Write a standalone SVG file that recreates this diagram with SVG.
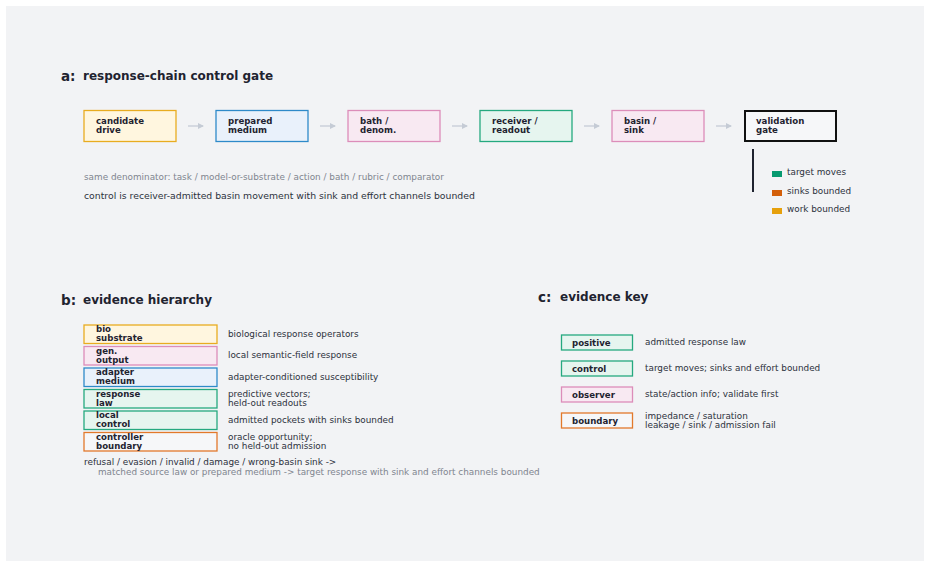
<svg xmlns="http://www.w3.org/2000/svg" width="930" height="567" viewBox="0 0 930 567">
<defs>
<marker id="ah" viewBox="0 0 6 6" refX="5" refY="3" markerWidth="6" markerHeight="6" orient="auto" markerUnits="userSpaceOnUse"><path d="M0,0 L6,3 L0,6 z" fill="#c5cbd5"/></marker>
<style>
text{font-family:"DejaVu Sans","Noto Sans",sans-serif;fill:#1f2330}
.ttl{font-size:12px;font-weight:bold}
.nb{font-size:8.6px;font-weight:bold}
.d{font-size:8.85px;fill:#2c313c}
.g{font-size:8.85px;fill:#80858f}
.yel{fill:#fff6df;stroke:#e8ac20;stroke-width:1.3}
.blu{fill:#e9f1fb;stroke:#2e8ac9;stroke-width:1.3}
.pnk{fill:#f8e9f2;stroke:#dc8db9;stroke-width:1.3}
.grn{fill:#e6f5ef;stroke:#25a97f;stroke-width:1.3}
.org{fill:#f6f7f9;stroke:#e2792b;stroke-width:1.3}
.blk{fill:#f6f7f9;stroke:#111;stroke-width:2}
.arr{stroke:#c5cbd5;stroke-width:1.3;fill:none}
</style>
</defs>
<rect x="0" y="0" width="930" height="567" fill="#ffffff"/>
<rect x="6" y="6" width="918" height="555" fill="#f2f3f5"/>

<text x="61" y="81" style="font-size:13.5px;font-weight:bold">a:</text>
<text x="83" y="80" class="ttl">response-chain control gate</text>

<g id="connectors">
<line x1="188" y1="126" x2="203" y2="126" class="arr" marker-end="url(#ah)"/>
<line x1="320" y1="126" x2="335" y2="126" class="arr" marker-end="url(#ah)"/>
<line x1="452" y1="126" x2="467" y2="126" class="arr" marker-end="url(#ah)"/>
<line x1="584" y1="126" x2="599" y2="126" class="arr" marker-end="url(#ah)"/>
<line x1="716" y1="126" x2="731" y2="126" class="arr" marker-end="url(#ah)"/>
</g>

<g id="candidate"><rect x="84" y="110.5" width="92" height="31" class="yel"/><text x="96" y="124" class="nb">candidate</text><text x="96" y="133" class="nb">drive</text></g>
<g id="prepared"><rect x="216" y="110.5" width="92" height="31" class="blu"/><text x="228" y="124" class="nb">prepared</text><text x="228" y="133" class="nb">medium</text></g>
<g id="bath"><rect x="348" y="110.5" width="92" height="31" class="pnk"/><text x="360" y="124" class="nb">bath /</text><text x="360" y="133" class="nb">denom.</text></g>
<g id="receiver"><rect x="480" y="110.5" width="92" height="31" class="grn"/><text x="492" y="124" class="nb">receiver /</text><text x="492" y="133" class="nb">readout</text></g>
<g id="basin"><rect x="612" y="110.5" width="92" height="31" class="pnk"/><text x="624" y="124" class="nb">basin /</text><text x="624" y="133" class="nb">sink</text></g>
<g id="gate"><rect x="745" y="111" width="91" height="30" class="blk"/><text x="756" y="124" class="nb">validation</text><text x="756" y="133" class="nb">gate</text></g>

<g id="gate-legend">
<line x1="753" y1="149" x2="753" y2="192" stroke="#1f2330" stroke-width="2"/>
<rect x="772" y="171" width="10" height="6" fill="#079a70"/><text x="787" y="175" class="d">target moves</text>
<rect x="772" y="190" width="10" height="6" fill="#d35f0a"/><text x="787" y="194" class="d">sinks bounded</text>
<rect x="772" y="208" width="10" height="6" fill="#e6a00c"/><text x="787" y="212" class="d">work bounded</text>
</g>

<text x="84" y="180" class="g">same denominator: task / model-or-substrate / action / bath / rubric / comparator</text>
<text x="84" y="199" class="d" style="font-size:9.3px">control is receiver-admitted basin movement with sink and effort channels bounded</text>

<text x="61" y="305" style="font-size:13.5px;font-weight:bold">b:</text>
<text x="83" y="304" class="ttl">evidence hierarchy</text>

<g id="bio"><rect x="84" y="325" width="133" height="18.5" class="yel"/><text x="96" y="332" class="nb">bio</text><text x="96" y="341" class="nb">substrate</text><text x="228" y="337" class="d">biological response operators</text></g>
<g id="gen"><rect x="84" y="346.5" width="133" height="18.5" class="pnk"/><text x="96" y="353.5" class="nb">gen.</text><text x="96" y="362.5" class="nb">output</text><text x="228" y="358" class="d">local semantic-field response</text></g>
<g id="adapter"><rect x="84" y="368" width="133" height="18.5" class="blu"/><text x="96" y="375" class="nb">adapter</text><text x="96" y="384" class="nb">medium</text><text x="228" y="380" class="d">adapter-conditioned susceptibility</text></g>
<g id="response"><rect x="84" y="389.5" width="133" height="18.5" class="grn"/><text x="96" y="396.5" class="nb">response</text><text x="96" y="405.5" class="nb">law</text><text x="228" y="396.5" class="d">predictive vectors;</text><text x="228" y="405.5" class="d">held-out readouts</text></g>
<g id="local"><rect x="84" y="411" width="133" height="18.5" class="grn"/><text x="96" y="418" class="nb">local</text><text x="96" y="427" class="nb">control</text><text x="228" y="423" class="d">admitted pockets with sinks bounded</text></g>
<g id="controller"><rect x="84" y="432.5" width="133" height="18.5" class="org"/><text x="96" y="439.5" class="nb">controller</text><text x="96" y="448.5" class="nb">boundary</text><text x="228" y="439.5" class="d">oracle opportunity;</text><text x="228" y="448.5" class="d">no held-out admission</text></g>

<text x="84" y="465" class="d">refusal / evasion / invalid / damage / wrong-basin sink -&gt;</text>
<text x="98" y="474.5" class="g">matched source law or prepared medium -&gt; target response with sink and effort channels bounded</text>

<text x="538" y="302" style="font-size:13.5px;font-weight:bold">c:</text>
<text x="560" y="301" class="ttl">evidence key</text>

<g id="positive"><rect x="561.5" y="335" width="71" height="15" class="grn"/><text x="572" y="345.5" class="nb">positive</text><text x="645" y="345" class="d">admitted response law</text></g>
<g id="control"><rect x="561.5" y="361" width="71" height="15" class="grn"/><text x="572" y="371.5" class="nb">control</text><text x="645" y="371" class="d">target moves; sinks and effort bounded</text></g>
<g id="observer"><rect x="561.5" y="387" width="71" height="15" class="pnk"/><text x="572" y="397.5" class="nb">observer</text><text x="645" y="397" class="d">state/action info; validate first</text></g>
<g id="boundary"><rect x="561.5" y="413" width="71" height="15" class="org"/><text x="572" y="424" class="nb">boundary</text><text x="645" y="419" class="d">impedance / saturation</text><text x="645" y="428" class="d">leakage / sink / admission fail</text></g>
</svg>
